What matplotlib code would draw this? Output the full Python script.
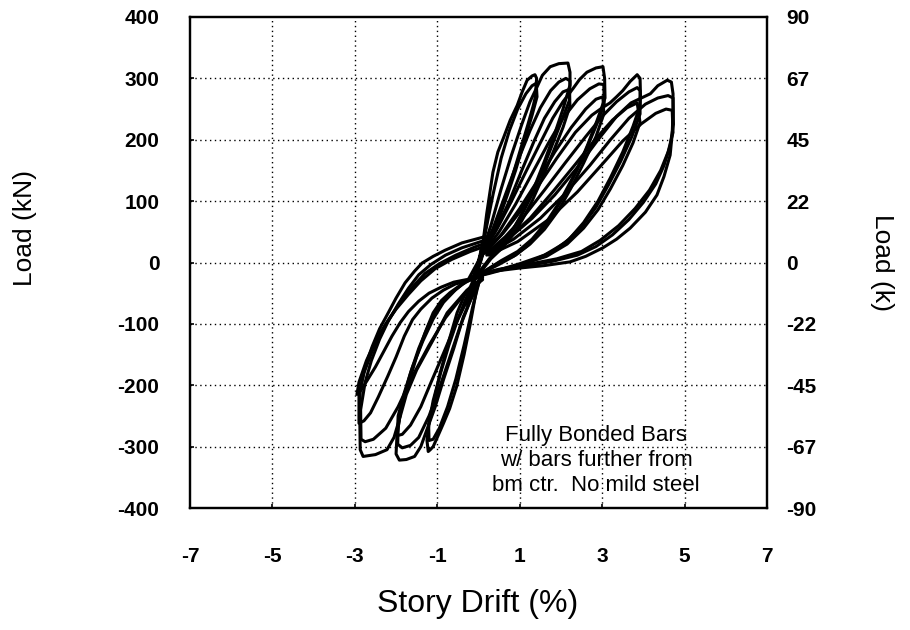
import matplotlib
matplotlib.use("Agg")
import matplotlib.pyplot as plt

plt.rcParams['font.family'] = ['Liberation Sans', 'DejaVu Sans']

# ---------------- data (story drift %, load kN) ----------------
# positive half-cycles
p1_x = [0.05, 0.11, 0.20, 0.35, 0.47, 0.60, 0.77, 0.94, 1.06, 1.18, 1.30, 1.37, 1.41, 1.38, 1.33, 1.20, 1.00, 0.80, 0.60, 0.40, 0.20, 0.05, -0.05]
p1_y = [15, 33, 80, 147, 180, 202, 232, 256, 278, 297, 304, 306, 300, 270, 256, 225, 180, 135, 95, 60, 30, 5, -20]
p1b_x = [0.05, 0.20, 0.35, 0.55, 0.75, 0.95, 1.15, 1.30, 1.40, 1.42, 1.30, 1.10, 0.90, 0.70, 0.50, 0.30, 0.10, -0.05]
p1b_y = [15, 60, 110, 170, 215, 250, 275, 288, 292, 270, 240, 195, 150, 110, 72, 42, 12, -20]
p2_x = [0.10, 0.30, 0.55, 0.80, 1.05, 1.25, 1.42, 1.55, 1.74, 1.95, 2.17, 2.22, 2.22, 2.05, 1.85, 1.60, 1.35, 1.10, 0.85, 0.60, 0.35, 0.10, -0.05]
p2_y = [20, 60, 120, 175, 225, 262, 286, 305, 319, 324, 325, 310, 289, 250, 210, 165, 122, 85, 55, 32, 12, -8, -22]
p2b_x = [0.10, 0.35, 0.65, 0.95, 1.25, 1.50, 1.75, 1.95, 2.12, 2.22, 2.21, 2.00, 1.75, 1.50, 1.25, 1.00, 0.75, 0.50, 0.25, 0.00]
p2b_y = [18, 55, 110, 165, 215, 252, 280, 294, 300, 296, 265, 228, 185, 142, 104, 72, 45, 24, 5, -20]
p2c_x = [0.10, 0.40, 0.75, 1.05, 1.35, 1.60, 1.85, 2.05, 2.20, 2.22, 2.05, 1.80, 1.55, 1.30, 1.05, 0.80, 0.55, 0.30, 0.00]
p2c_y = [15, 50, 100, 150, 198, 235, 262, 278, 282, 255, 220, 178, 138, 100, 68, 42, 22, 6, -20]
p3_x = [0.15, 0.45, 0.80, 1.15, 1.50, 1.80, 2.05, 2.30, 2.45, 2.63, 2.85, 3.02, 3.06, 3.07, 2.88, 2.65, 2.40, 2.10, 1.80, 1.50, 1.20, 0.85, 0.50, 0.15, 0.00]
p3_y = [22, 55, 100, 148, 195, 235, 262, 284, 298, 310, 317, 319, 300, 268, 232, 192, 152, 112, 78, 50, 28, 10, -3, -15, -22]
p3b_x = [0.15, 0.50, 0.90, 1.30, 1.70, 2.05, 2.40, 2.70, 2.92, 3.04, 3.05, 2.85, 2.60, 2.30, 2.00, 1.65, 1.30, 0.95, 0.55, 0.20, 0.00]
p3b_y = [18, 50, 95, 145, 195, 235, 265, 283, 291, 290, 258, 222, 182, 140, 102, 66, 38, 18, 3, -12, -20]
p3c_x = [0.15, 0.55, 1.00, 1.45, 1.85, 2.25, 2.60, 2.85, 3.02, 3.04, 2.85, 2.55, 2.25, 1.95, 1.60, 1.25, 0.90, 0.50, 0.00]
p3c_y = [15, 45, 88, 135, 180, 220, 250, 266, 270, 242, 205, 162, 122, 86, 54, 30, 12, 0, -20]
p4_x = [0.20, 0.60, 1.00, 1.45, 1.90, 2.35, 2.75, 3.00, 3.19, 3.35, 3.50, 3.68, 3.85, 3.92, 3.93, 3.92, 3.75, 3.50, 3.20, 2.90, 2.55, 2.20, 1.80, 1.30, 0.80, 0.25, 0.00]
p4_y = [20, 48, 82, 125, 170, 212, 240, 252, 260, 270, 280, 295, 306, 300, 273, 255, 222, 180, 138, 100, 65, 38, 18, 3, -8, -18, -22]
p4b_x = [0.20, 0.65, 1.10, 1.60, 2.10, 2.60, 3.00, 3.35, 3.65, 3.85, 3.92, 3.92, 3.72, 3.45, 3.15, 2.85, 2.50, 2.10, 1.60, 1.00, 0.40, 0.00]
p4b_y = [15, 42, 75, 118, 162, 205, 238, 262, 278, 285, 280, 242, 205, 165, 126, 90, 58, 32, 12, -2, -14, -22]
p4c_x = [0.20, 0.70, 1.25, 1.80, 2.35, 2.85, 3.25, 3.60, 3.85, 3.92, 3.75, 3.50, 3.20, 2.90, 2.55, 2.15, 1.65, 1.05, 0.40, 0.00]
p4c_y = [12, 38, 72, 115, 160, 202, 232, 252, 260, 228, 195, 158, 120, 86, 56, 30, 10, -3, -14, -20]
p5_x = [0.25, 0.75, 1.30, 1.85, 2.40, 2.90, 3.35, 3.70, 3.95, 4.17, 4.35, 4.58, 4.68, 4.72, 4.72, 4.70, 4.65, 4.50, 4.33, 4.05, 3.68, 3.35, 3.02, 2.60, 2.22, 1.60, 1.00, 0.40, 0.00]
p5_y = [18, 40, 72, 110, 155, 200, 238, 260, 268, 275, 288, 297, 294, 275, 245, 210, 175, 140, 110, 82, 56, 38, 24, 10, 1, -5, -9, -14, -20]
p5b_x = [0.25, 0.85, 1.50, 2.10, 2.70, 3.20, 3.65, 4.05, 4.35, 4.60, 4.72, 4.73, 4.65, 4.50, 4.30, 4.00, 3.65, 3.25, 2.85, 2.40, 1.80, 1.10, 0.40, 0.00]
p5b_y = [15, 38, 72, 112, 158, 200, 235, 258, 268, 272, 268, 225, 190, 158, 128, 98, 70, 45, 26, 12, 2, -6, -13, -20]
p5c_x = [0.25, 0.95, 1.70, 2.40, 3.00, 3.50, 3.95, 4.30, 4.55, 4.70, 4.72, 4.60, 4.42, 4.15, 3.80, 3.40, 2.95, 2.50, 1.90, 1.20, 0.50, 0.00]
p5c_y = [12, 34, 70, 115, 160, 198, 226, 243, 250, 248, 212, 180, 150, 118, 88, 60, 36, 18, 6, -3, -11, -20]

# negative half-cycles
n1_x = [0.05, -0.05, -0.20, -0.35, -0.53, -0.70, -0.85, -1.00, -1.10, -1.17, -1.22, -1.25, -1.20, -1.08, -0.93, -0.72, -0.52, -0.35, -0.20, 0.00, 0.10]
n1_y = [-25, -45, -100, -150, -202, -238, -262, -285, -300, -305, -308, -290, -262, -225, -180, -128, -82, -55, -40, -10, 15]
n1b_x = [0.05, -0.15, -0.35, -0.55, -0.75, -0.95, -1.10, -1.20, -1.21, -1.10, -0.92, -0.72, -0.50, -0.30, -0.10, 0.08]
n1b_y = [-22, -75, -135, -190, -235, -270, -288, -290, -265, -225, -180, -135, -92, -58, -32, 12]
n2_x = [0.05, -0.15, -0.37, -0.60, -0.85, -1.05, -1.25, -1.40, -1.55, -1.75, -1.92, -2.00, -1.98, -1.90, -1.70, -1.50, -1.30, -1.10, -0.90, -0.69, -0.40, -0.13, 0.10]
n2_y = [-25, -55, -89, -140, -191, -235, -272, -300, -316, -321, -322, -312, -285, -245, -198, -153, -115, -82, -62, -49, -35, -23, 15]
n2b_x = [0.05, -0.20, -0.45, -0.70, -0.95, -1.20, -1.45, -1.65, -1.85, -1.96, -1.95, -1.85, -1.65, -1.45, -1.20, -0.95, -0.70, -0.40, -0.10, 0.10]
n2b_y = [-25, -62, -105, -155, -205, -250, -285, -298, -302, -296, -268, -228, -180, -140, -100, -72, -52, -36, -24, 15]
n2c_x = [0.05, -0.25, -0.55, -0.85, -1.15, -1.40, -1.65, -1.85, -1.97, -1.95, -1.80, -1.60, -1.35, -1.10, -0.85, -0.55, -0.25, 0.10]
n2c_y = [-25, -58, -100, -148, -195, -235, -265, -280, -282, -250, -212, -170, -128, -92, -65, -44, -28, 15]
n3_x = [0.10, -0.28, -0.76, -1.10, -1.50, -1.75, -1.90, -2.05, -2.22, -2.50, -2.80, -2.87, -2.88, -2.87, -2.75, -2.58, -2.40, -2.19, -2.00, -1.78, -1.55, -1.37, -1.10, -0.81, -0.40, 0.15]
n3_y = [-25, -45, -82, -126, -175, -215, -251, -285, -305, -313, -316, -305, -255, -207, -170, -137, -108, -82, -58, -33, -14, -1, 10, 20, 32, 42]
n3b_x = [0.10, -0.35, -0.80, -1.20, -1.60, -1.95, -2.25, -2.55, -2.75, -2.85, -2.86, -2.75, -2.60, -2.40, -2.20, -1.95, -1.70, -1.45, -1.15, -0.80, -0.40, 0.10]
n3b_y = [-28, -52, -90, -135, -185, -235, -270, -288, -292, -288, -240, -195, -160, -125, -97, -68, -42, -20, -3, 12, 24, 35]
n3c_x = [0.10, -0.25, -0.56, -0.85, -1.13, -1.40, -1.60, -1.80, -2.00, -2.20, -2.43, -2.62, -2.78, -2.90, -2.90, -2.78, -2.60, -2.40, -2.15, -1.90, -1.60, -1.30, -0.95, -0.55, -0.10, 0.10]
n3c_y = [-22, -30, -35, -45, -58, -76, -93, -120, -154, -185, -219, -245, -258, -262, -215, -180, -148, -118, -90, -65, -40, -18, -2, 12, 25, 30]
n3d_x = [0.10, -0.30, -0.60, -0.90, -1.20, -1.45, -1.70, -1.90, -2.10, -2.30, -2.50, -2.70, -2.85, -2.95, -2.90, -2.72, -2.50, -2.25, -2.00, -1.70, -1.40, -1.05, -0.65, -0.20, 0.10]
n3d_y = [-24, -28, -32, -40, -50, -63, -80, -98, -120, -145, -170, -192, -208, -215, -195, -160, -128, -100, -76, -52, -30, -10, 5, 18, 25]

# small initial cycles
s1_x = [0.00, 0.10, 0.20, 0.28, 0.22, 0.12, 0.02, -0.10, -0.20, -0.26, -0.18, -0.06, 0.00]
s1_y = [0, 25, 65, 105, 75, 35, 8, -22, -50, -70, -45, -18, 0]

# axis ticks / labels
x_ticks = [-7, -5, -3, -1, 1, 3, 5, 7]
y_ticks = [-400, -300, -200, -100, 0, 100, 200, 300, 400]
kip_labels = ["-90", "-67", "-45", "-22", "0", "22", "45", "67", "90"]
note = "Fully Bonded Bars\nw/ bars further from\nbm ctr.  No mild steel"

# ---------------- figure ----------------
fig = plt.figure(figsize=(9.1, 6.3), dpi=100)
ax = fig.add_axes([190/910, 1-508/630, (767-190)/910, (508-17)/630])

curves = [(p1_x, p1_y), (p1b_x, p1b_y), (p2_x, p2_y), (p2b_x, p2b_y), (p2c_x, p2c_y),
          (p3_x, p3_y), (p3b_x, p3b_y), (p3c_x, p3c_y),
          (p4_x, p4_y), (p4b_x, p4b_y), (p4c_x, p4c_y),
          (p5_x, p5_y), (p5b_x, p5b_y), (p5c_x, p5c_y),
          (n1_x, n1_y), (n1b_x, n1b_y), (n2_x, n2_y), (n2b_x, n2b_y), (n2c_x, n2c_y),
          (n3_x, n3_y), (n3b_x, n3b_y), (n3c_x, n3c_y), (n3d_x, n3d_y),
          (s1_x, s1_y)]
for cx, cy in curves:
    ax.plot(cx, cy, color='black', lw=2.2, solid_joinstyle='round', solid_capstyle='round')

ax.set_xlim(-7, 7)
ax.set_ylim(-400, 400)
ax.set_xticks(x_ticks)
ax.set_yticks(y_ticks)
ax.set_xticklabels([str(t) for t in x_ticks])
ax.set_yticklabels([str(t) for t in y_ticks])
for v in x_ticks[1:-1]:
    ax.axvline(v, color='black', lw=1.0, ls=(0, (1, 2.5)), zorder=0)
for v in y_ticks[1:-1]:
    ax.axhline(v, color='black', lw=1.0, ls=(0, (1, 2.5)), zorder=0)
ax.tick_params(direction='in', length=3, width=1.2, labelsize=15, pad=22)
ax.tick_params(axis='x', pad=28)
for lab in ax.get_xticklabels() + ax.get_yticklabels():
    lab.set_fontweight('bold')
for s in ax.spines.values():
    s.set_linewidth(1.6)

ax2 = ax.twinx()
ax2.set_ylim(-400, 400)
ax2.set_yticks(y_ticks)
ax2.set_yticklabels(kip_labels)
ax2.tick_params(direction='in', length=0, labelsize=15, pad=14)
for lab in ax2.get_yticklabels():
    lab.set_fontweight('bold')
for s in ax2.spines.values():
    s.set_linewidth(1.6)

ax.text(2.85, -322, note, ha='center', va='center', fontsize=16, linespacing=1.25)

fig.text(25/910, 1-228/630, "Load (kN)", rotation=90, ha='center', va='center', fontsize=19)
fig.text(882/910, 1-262/630, "Load (k)", rotation=270, ha='center', va='center', fontsize=19)
fig.text(478/910, 1-604/630, "Story Drift (%)", ha='center', va='center', fontsize=23)

fig.savefig("out.png", dpi=100)
